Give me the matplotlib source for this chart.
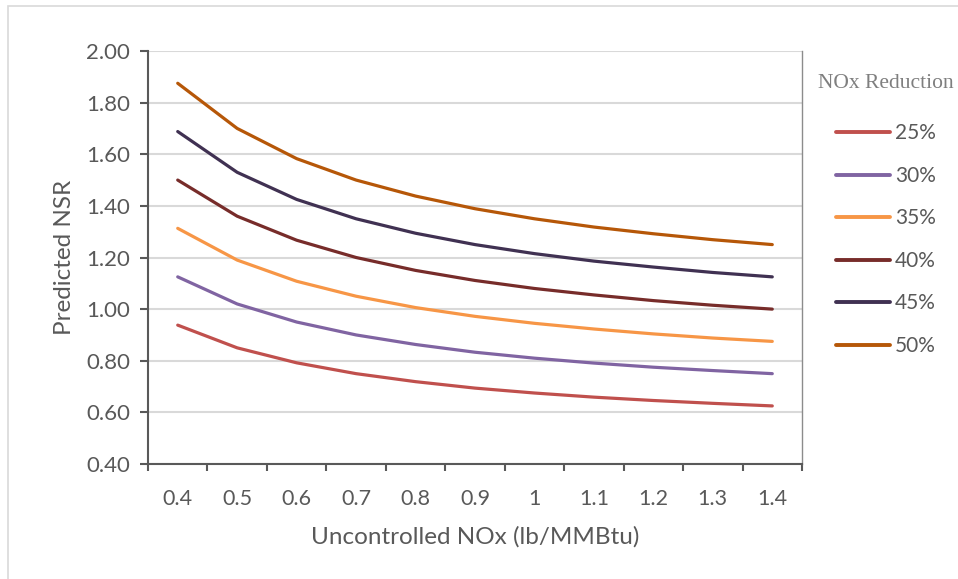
import matplotlib.pyplot as plt
from matplotlib.patches import Rectangle

# Uncontrolled NOx (lb/MMBtu) categories
nox_labels = ['0.4', '0.5', '0.6', '0.7', '0.8', '0.9', '1', '1.1', '1.2', '1.3', '1.4']

# predicted NSR per NOx reduction
nsr_25 = [0.938, 0.850, 0.792, 0.750, 0.719, 0.694, 0.675, 0.659, 0.646, 0.635, 0.625]
nsr_30 = [1.125, 1.020, 0.950, 0.900, 0.863, 0.833, 0.810, 0.791, 0.775, 0.762, 0.750]
nsr_35 = [1.313, 1.190, 1.108, 1.050, 1.006, 0.972, 0.945, 0.923, 0.904, 0.888, 0.875]
nsr_40 = [1.500, 1.360, 1.267, 1.200, 1.150, 1.111, 1.080, 1.055, 1.033, 1.015, 1.000]
nsr_45 = [1.688, 1.530, 1.425, 1.350, 1.294, 1.250, 1.215, 1.186, 1.163, 1.142, 1.125]
nsr_50 = [1.875, 1.700, 1.583, 1.500, 1.438, 1.389, 1.350, 1.318, 1.292, 1.269, 1.250]

series_labels = ['25%', '30%', '35%', '40%', '45%', '50%']
series = [nsr_25, nsr_30, nsr_35, nsr_40, nsr_45, nsr_50]
colors = ['#C0504D', '#8064A2', '#F79646', '#772C2A', '#403152', '#B65708']

y_ticks = [0.40, 0.60, 0.80, 1.00, 1.20, 1.40, 1.60, 1.80, 2.00]

plt.rcParams['font.family'] = ['Lato', 'DejaVu Sans']
text_col = '#595959'

fig = plt.figure(figsize=(9.58, 5.79), dpi=100)
# light outer chart border (only top/left visible in the crop)
fig.patches.append(Rectangle((8 / 958, -0.1), 1.2, 1.1 - 6 / 579, transform=fig.transFigure,
                             fill=False, edgecolor='#D9D9D9', linewidth=1.2))

ax = fig.add_axes([148 / 958, 1 - 464 / 579, (802 - 148) / 958, (464 - 51) / 579])

x = list(range(len(nox_labels)))
for vals, lab, c in zip(series, series_labels, colors):
    ax.plot(x, vals, color=c, linewidth=2.3, label=lab, solid_capstyle='round')

ax.set_xlim(-0.5, len(nox_labels) - 0.5)
ax.set_ylim(0.40, 2.00)
ax.set_yticks(y_ticks)
ax.set_yticklabels(['{:.2f}'.format(v) for v in y_ticks])
ax.set_xticks(x)
ax.set_xticklabels(nox_labels)
# category boundary ticks like Excel
ax.set_xticks([i - 0.5 for i in range(len(nox_labels) + 1)], minor=True)
ax.tick_params(axis='x', which='major', length=0, pad=18, labelsize=15.5, labelcolor=text_col)
ax.tick_params(axis='x', which='minor', length=5, width=1.5, color='#595959', direction='out')
ax.tick_params(axis='y', length=6, width=1.5, color='#595959', labelsize=16, labelcolor=text_col, pad=7)

ax.grid(axis='y', color='#D9D9D9', linewidth=1.5)
ax.set_axisbelow(True)
for s in ['left', 'bottom']:
    ax.spines[s].set_color('#595959')
    ax.spines[s].set_linewidth(1.5)
for s in ['top', 'right']:
    ax.spines[s].set_color('#8C8C8C')
    ax.spines[s].set_linewidth(1.0)
ax.spines['top'].set_visible(False)

ax.set_xlabel('Uncontrolled NOx (lb/MMBtu)', fontsize=17.5, color=text_col, labelpad=12)
ax.set_ylabel('Predicted NSR', fontsize=17.5, color=text_col, labelpad=8)

leg = ax.legend(loc='upper left', bbox_to_anchor=(1.012, 0.965), frameon=False,
                title='NOx Reduction', fontsize=15, labelcolor=text_col,
                handlelength=2.6, handletextpad=0.25, labelspacing=1.08, borderaxespad=0)
leg.get_title().set_fontfamily('Liberation Serif')
leg.get_title().set_color('#7F7F7F')
leg.get_title().set_fontsize(15.5)
leg._legend_box.sep = 22
for h in leg.get_lines():
    h.set_linewidth(2.8)

fig.savefig('out.png', dpi=100)
